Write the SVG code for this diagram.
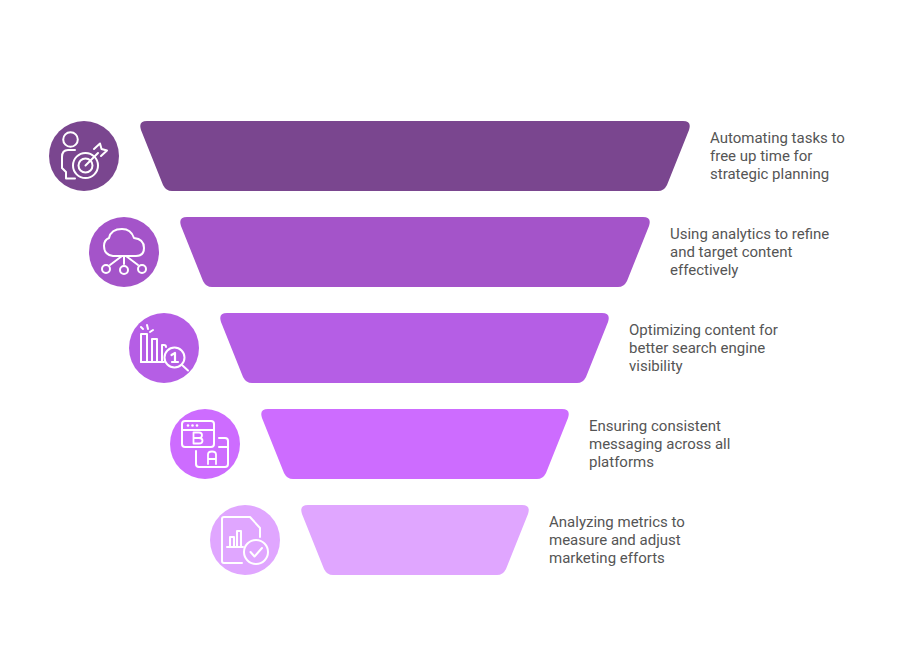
<svg xmlns="http://www.w3.org/2000/svg" width="900" height="648" viewBox="0 0 900 648">
<style>
text{font-family:Roboto,"Liberation Sans",sans-serif;font-size:15px;fill:#555}
.i{fill:none;stroke:#fff;stroke-width:2;stroke-linecap:round;stroke-linejoin:round}
</style>
<rect width="900" height="648" fill="#fff"/>
<g id="connectors"/>
<g id="node1">
<path fill="#7a468f" d="M147 121H683Q692 121 689 130L667 185Q664 191 658 191H172Q166 191 163 185L141 130Q138 121 147 121Z"/>
<circle cx="84" cy="156" r="35" fill="#7a468f"/>
<g class="i">
<circle cx="70.500" cy="139.500" r="7.300"/>
<path d="M75 150H68Q62 150 62 157V168L66 172V178.500H75"/>
<circle cx="85.500" cy="165.500" r="12.500"/><circle cx="85.500" cy="165.500" r="7"/>
<path d="M85.500 165.500L98 153M94 149L100 143.500L101.500 149L107 150.500L101 156"/>
</g>
<text x="710" y="143">Automating tasks to</text><text x="710" y="161">free up time for</text><text x="710" y="179">strategic planning</text>
</g>
<g id="node2">
<path fill="#a454c9" d="M187 217H643Q652 217 649 226L627 281Q624 287 618 287H212Q206 287 203 281L181 226Q178 217 187 217Z"/>
<circle cx="124" cy="252" r="35" fill="#a454c9"/>
<g class="i">
<path d="M113 256Q104 255 104 246Q104 240 109 238Q111 229 122 229Q131 229 134 238Q144 239 144 248Q144 256 136 256Z"/>
<path d="M124 256V264M122 256L110 265M126 256L138 265"/>
<circle cx="106" cy="269" r="4"/><circle cx="124" cy="270" r="4"/><circle cx="142" cy="269" r="4"/>
</g>
<text x="670" y="239">Using analytics to refine</text><text x="670" y="257">and target content</text><text x="670" y="275">effectively</text>
</g>
<g id="node3">
<path fill="#b55ee5" d="M227 313H602Q611 313 608 322L586 377Q583 383 577 383H252Q246 383 243 377L221 322Q218 313 227 313Z"/>
<circle cx="164" cy="348" r="35" fill="#b55ee5"/>
<g class="i">
<path d="M141 362V334H147V362M152 362V339H157V362M162 362V345H164Q166 345 166 347"/>
<path d="M141 362H164M141 327L143 329M147 325L148 329M150 332L153 330"/>
<circle cx="174.500" cy="357.500" r="10"/><path d="M182 365L188 370.500"/>
<path d="M171.500 355L175 353V362M172 362H178" stroke-width="2.200"/>
</g>
<text x="629" y="335">Optimizing content for</text><text x="629" y="353">better search engine</text><text x="629" y="371">visibility</text>
</g>
<g id="node4">
<path fill="#cd6cff" d="M268 409H562Q571 409 568 418L546 473Q543 479 537 479H293Q287 479 284 473L262 418Q259 409 268 409Z"/>
<circle cx="205" cy="444" r="35" fill="#cd6cff"/>
<g class="i">
<rect x="182" y="421" width="32" height="26" rx="3"/>
<path d="M182 430H214M219 438H225Q228 438 228 441V464Q228 467 225 467H199Q196 467 196 464V451"/>
<path d="M228 447H219"/>
<path d="M193.500 443.500V432.500H199Q202 432.500 202 435.200Q202 438 199 438H193.500M199 438Q202.500 438 202.500 440.700Q202.500 443.500 199 443.500H193.500" stroke-width="1.800"/>
<path d="M208 464V454.500Q208 451.500 212 451.500Q216 451.500 216 454.500V464M208 459H216" stroke-width="1.800"/>
</g>
<g fill="#fff"><circle cx="188" cy="425.500" r="1.300"/><circle cx="192.500" cy="425.500" r="1.300"/><circle cx="197" cy="425.500" r="1.300"/></g>
<text x="589" y="431">Ensuring consistent</text><text x="589" y="449">messaging across all</text><text x="589" y="467">platforms</text>
</g>
<g id="node5">
<path fill="#e0a6ff" d="M308 505H522Q531 505 528 514L506 569Q503 575 497 575H333Q327 575 324 569L302 514Q299 505 308 505Z"/>
<circle cx="245" cy="540" r="35" fill="#e0a6ff"/>
<g class="i">
<path d="M242 563H224Q222 563 222 561V519Q222 517 224 517H250L260 528V537"/>
<path d="M227 547H243M230 547V537H234V547M237 547V531H241V547"/>
<circle cx="256" cy="552" r="12"/><path d="M250.500 552L254.500 556.500L262 548"/>
</g>
<text x="549" y="527">Analyzing metrics to</text><text x="549" y="545">measure and adjust</text><text x="549" y="563">marketing efforts</text>
</g>
</svg>
